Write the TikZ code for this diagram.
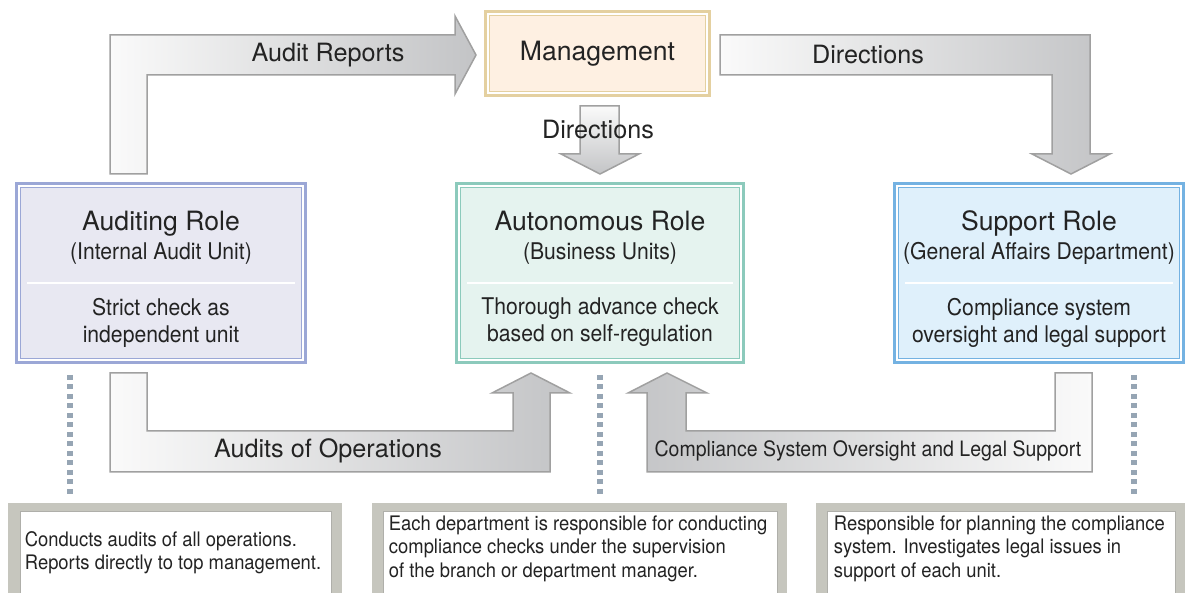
\documentclass[tikz,border=0pt]{standalone}
\usepackage{fontspec}
\setmainfont{TeX Gyre Heros}
\newfontfamily\cnfont[FakeStretch=0.92]{TeX Gyre Heros}
\usetikzlibrary{positioning,calc}
\definecolor{txtgray}{RGB}{35,35,35}
\definecolor{mgmtline}{RGB}{228,208,160}
\definecolor{mgmtfill}{RGB}{254,240,226}
\definecolor{auditline}{RGB}{155,167,214}
\definecolor{auditfill}{RGB}{232,232,242}
\definecolor{autonline}{RGB}{140,202,188}
\definecolor{autonfill}{RGB}{229,243,239}
\definecolor{suppline}{RGB}{116,178,226}
\definecolor{suppfill}{RGB}{223,240,251}
\definecolor{arrlight}{RGB}{250,250,250}
\definecolor{arrdark}{RGB}{195,196,198}
\definecolor{arrline}{RGB}{160,160,160}
\definecolor{dotblue}{RGB}{150,165,180}
\definecolor{framegray}{RGB}{198,198,190}
\definecolor{notegray}{RGB}{175,175,170}

\begin{document}
\begin{tikzpicture}[x=0.5pt, y=-0.5pt,
  role/.style={rectangle, line width=3pt, minimum width=143pt,
               minimum height=88pt, inner sep=0pt},
  ttl/.style={font=\fontsize{13.3}{16}\selectfont, text=txtgray,
              inner sep=0pt, anchor=base},
  sub/.style={font=\cnfont\fontsize{11.5}{13.5}\selectfont, text=txtgray,
              inner sep=0pt},
  body/.style={sub, align=center},
  lbl/.style={font=\fontsize{12.6}{15}\selectfont, text=txtgray, inner sep=0pt},
  cnlbl/.style={sub, font=\cnfont\fontsize{10.6}{12}\selectfont},
  blk/.style={draw=arrline, line width=0.75pt, line join=miter},
  inline/.style={draw=white, line width=1pt},
  dotline/.style={draw=dotblue, line width=2.75pt, dash pattern=on 2.5pt off 2.25pt},
  frame/.style={rectangle, fill=framegray, minimum height=45pt, inner sep=0pt},
  note/.style={rectangle, draw=notegray, line width=0.5pt, fill=white,
               minimum height=40.5pt, inner sep=0pt},
  notetxt/.style={font=\cnfont\fontsize{10}{11.75}\selectfont, text=txtgray,
                  align=left, inner sep=0pt, anchor=west},
]
\useasboundingbox (0,0) rectangle (1185,593);

% Block arrows (pixel grid, y down)
\draw[blk, left color=arrlight, right color=arrdark]
  (110,174) -- (110,35) -- (455,35) -- (455,16) -- (476,55) -- (455,94)
  -- (455,75) -- (147,75) -- (147,174) -- cycle;
\draw[blk, left color=arrlight, right color=arrdark]
  (720,35) -- (1090,35) -- (1090,154) -- (1110,154) -- (1071,174)
  -- (1032,154) -- (1052,154) -- (1052,75) -- (720,75) -- cycle;
\draw[blk, top color=arrlight, bottom color=arrdark]
  (580,106) -- (619,106) -- (619,154) -- (639,154) -- (600,174)
  -- (561,154) -- (580,154) -- cycle;
\draw[blk, left color=arrlight, right color=arrdark]
  (110,373) -- (147,373) -- (147,431) -- (513,431) -- (513,393) -- (492,393)
  -- (531,373) -- (570,393) -- (550,393) -- (550,472) -- (110,472) -- cycle;
\draw[blk, left color=arrdark, right color=arrlight]
  (1092,373) -- (1055,373) -- (1055,431) -- (686,431) -- (686,393) -- (707,393)
  -- (667,373) -- (628,393) -- (647,393) -- (647,472) -- (1092,472) -- cycle;

% Arrow labels
\node[lbl] (rep-lbl) at (328,55)  {Audit Reports};
\node[lbl] (dir-lbl) at (868,55)  {Directions};
\node[lbl] (dn-lbl)  at (598,130) {Directions};
\node[lbl] (ops-lbl) at (328,451) {Audits of Operations};
\node[cnlbl] (cmp-lbl) at (868,451) {Compliance System Oversight and Legal Support};

% Management
\node[role, draw=mgmtline, fill=mgmtfill, minimum width=110.5pt, minimum height=40.5pt,
      font=\fontsize{13.3}{16}\selectfont, text=txtgray] (mgmt) at (597.5,53.5) {Management};

% Role boxes
\node[role, draw=auditline, fill=auditfill] (audit) at (161,273) {};
\node[role, draw=autonline, fill=autonfill, minimum width=142pt] (auton) at (600,273) {};
\node[role, draw=suppline, fill=suppfill] (supp) at (1039,273) {};

\foreach \n in {mgmt,audit,auton,supp}
  \draw[inline] ([shift={(2pt,-2pt)}]\n.north west)
    rectangle ([shift={(-2pt,2pt)}]\n.south east);
\foreach \n in {audit,auton,supp}
  \draw[inline] ([xshift=6pt,yshift=-5pt]\n.west) -- ([xshift=-6pt,yshift=-5pt]\n.east);

\node[ttl] (audit-ttl) at ([yshift=21pt]audit.center) {Auditing Role};
\node[sub, anchor=base] (audit-sub) at ([yshift=6.5pt]audit.center) {(Internal Audit Unit)};
\node[body] (audit-bdy) at ([yshift=-24.75pt]audit.center) {Strict check as\\independent unit};

\node[ttl] (auton-ttl) at ([yshift=21pt]auton.center) {Autonomous Role};
\node[sub, anchor=base] (auton-sub) at ([yshift=6.5pt]auton.center) {(Business Units)};
\node[body] (auton-bdy) at ([yshift=-24.75pt]auton.center) {Thorough advance check\\based on self-regulation};

\node[ttl] (supp-ttl) at ([yshift=21pt]supp.center) {Support Role};
\node[sub, anchor=base] (supp-sub) at ([yshift=6.5pt]supp.center) {(General Affairs Department)};
\node[body] (supp-bdy) at ([yshift=-24.75pt]supp.center) {Compliance system\\oversight and legal support};

% Notes
\node[frame, minimum width=167pt]   (audit-fr) at (175,548) {};
\node[frame, minimum width=207.5pt] (auton-fr) at (579.5,548) {};
\node[frame, minimum width=184.5pt] (supp-fr)  at (1000.5,548) {};
\node[note, minimum width=155.5pt] (audit-nt) at (175.5,552.5) {};
\node[note, minimum width=197pt]   (auton-nt) at (580,552.5) {};
\node[note, minimum width=174pt]   (supp-nt)  at (1001,552.5) {};

\node[notetxt] (audit-tx) at ([xshift=2.5pt]audit-nt.west)
  {Conducts audits of all operations.\\Reports directly to top management.};
\node[notetxt] (auton-tx) at ([xshift=3pt,yshift=2pt]auton-nt.west)
  {Each department is responsible for conducting\\compliance checks under the supervision\\of the branch or department manager.};
\node[notetxt] (supp-tx) at ([xshift=3.5pt,yshift=2pt]supp-nt.west)
  {Responsible for planning the compliance\\system. Investigates legal issues in\\support of each unit.};

% Dotted links
\coordinate (dA) at (70,0);
\coordinate (dB) at (600,0);
\coordinate (dC) at (1134,0);
\draw[dotline] ([yshift=-5.5pt]audit.south -| dA) -- ([yshift=3pt]audit-fr.north -| dA);
\draw[dotline] ([yshift=-5.5pt]auton.south -| dB) -- ([yshift=3pt]auton-fr.north -| dB);
\draw[dotline] ([yshift=-5.5pt]supp.south -| dC) -- ([yshift=3pt]supp-fr.north -| dC);
\end{tikzpicture}
\end{document}
